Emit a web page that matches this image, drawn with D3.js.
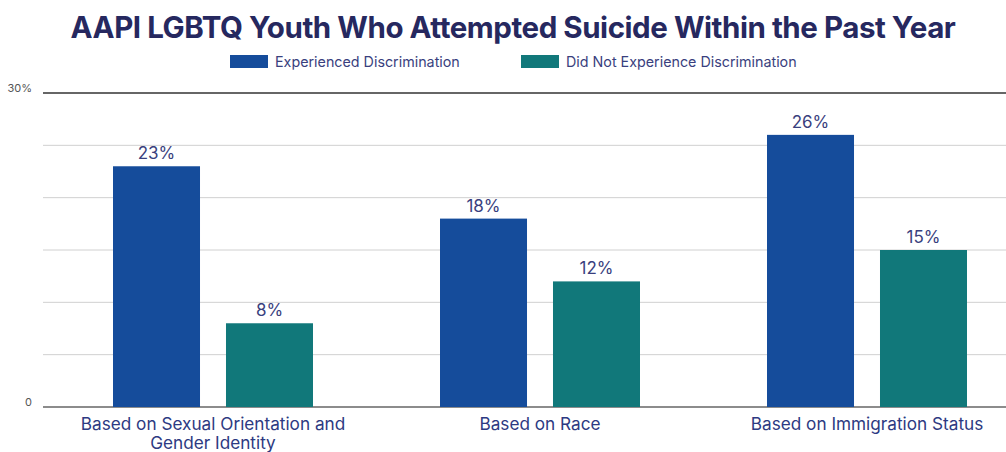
<!DOCTYPE html>
<html><head><meta charset="utf-8">
<script src="https://cdn.jsdelivr.net/npm/d3@7"></script>
<style>body{margin:0;background:#fff}svg{display:block}</style>
</head><body>
<svg id="c" width="1006" height="452"></svg>
<script>
const categories = [["Based on Sexual Orientation and","Gender Identity"],["Based on Race"],["Based on Immigration Status"]];
const seriesNames = ["Experienced Discrimination","Did Not Experience Discrimination"];
const experienced = [23, 18, 26];
const notExperienced = [8, 12, 15];
const colors = ["#154C9B", "#11787A"];
const yTicks = [0, 5, 10, 15, 20, 25, 30];
const yTickLabels = {0: "0", 30: "30%"};

const svg = d3.select("#c");
const font = "Inter, 'Noto Sans', sans-serif";
const plotLeft = 43, plotRight = 1006, plotTop = 93, plotBottom = 407;

const y = d3.scaleLinear().domain([0, 30]).range([plotBottom, plotTop]);
const x0 = d3.scaleBand().domain(d3.range(categories.length)).range([49.5, 1030.5]).paddingInner(0).paddingOuter(0);
const x1 = d3.scaleBand().domain([0, 1]).range([0, x0.bandwidth()]).paddingInner(0.23).paddingOuter(0.562);

// gridlines
svg.append("g").selectAll("line").data(yTicks).join("line")
  .attr("x1", plotLeft).attr("x2", plotRight)
  .attr("y1", d => y(d)).attr("y2", d => y(d))
  .attr("stroke", d => d === 30 ? "#333" : (d === 0 ? "#666" : "#d0d0d0"))
  .attr("stroke-width", d => (d === 30 || d === 0) ? 1.6 : 1);

// y labels
svg.append("g").selectAll("text").data(yTicks.filter(d => yTickLabels[d] !== undefined)).join("text")
  .attr("x", 32).attr("y", d => y(d) - 1)
  .attr("text-anchor", "end")
  .attr("font-family", font).attr("font-size", 11).attr("fill", "#555")
  .text(d => yTickLabels[d]);

// bars
const data = categories.map((c, i) => ({i, vals: [experienced[i], notExperienced[i]]}));
const g = svg.append("g").selectAll("g").data(data).join("g")
  .attr("transform", d => `translate(${x0(d.i)},0)`);
g.selectAll("rect").data(d => d.vals.map((v, s) => ({v, s}))).join("rect")
  .attr("x", d => x1(d.s)).attr("width", x1.bandwidth())
  .attr("y", d => y(d.v)).attr("height", d => y(0) - y(d.v))
  .attr("fill", d => colors[d.s]);
g.selectAll("text.val").data(d => d.vals.map((v, s) => ({v, s}))).join("text")
  .attr("class", "val")
  .attr("x", d => x1(d.s) + x1.bandwidth() / 2).attr("y", d => y(d.v) - 7)
  .attr("text-anchor", "middle")
  .attr("font-family", font).attr("font-size", 17).attr("fill", "#3a3f7e")
  .text(d => d.v + "%");

// category labels
const cat = svg.append("g").selectAll("text").data(categories).join("text")
  .attr("text-anchor", "middle")
  .attr("font-family", font).attr("font-size", 17.2).attr("fill", "#2d3a82")
  .attr("x", (d, i) => x0(i) + x0.bandwidth() / 2)
  .attr("y", 430);
cat.selectAll("tspan").data(d => d).join("tspan")
  .attr("x", function() { return this.parentNode.getAttribute("x"); })
  .attr("dy", (d, j) => j === 0 ? 0 : 19)
  .text(d => d);

// title
svg.append("text").attr("x", 513).attr("y", 38).attr("text-anchor", "middle")
  .attr("font-family", font).attr("font-weight", 700).attr("font-size", 29.5)
  .attr("fill", "#26285f").attr("letter-spacing", -0.45)
  .text("AAPI LGBTQ Youth Who Attempted Suicide Within the Past Year");

// legend
const legX = [230, 521];
const leg = svg.append("g").selectAll("g").data(seriesNames).join("g")
  .attr("transform", (d, i) => `translate(${legX[i]},55)`);
leg.append("rect").attr("width", 38).attr("height", 13).attr("fill", (d, i) => colors[i]);
leg.append("text").attr("x", 45).attr("y", 12)
  .attr("font-family", font).attr("font-size", 14.3).attr("fill", "#3a3f7e")
  .text(d => d);
</script>
</body></html>
